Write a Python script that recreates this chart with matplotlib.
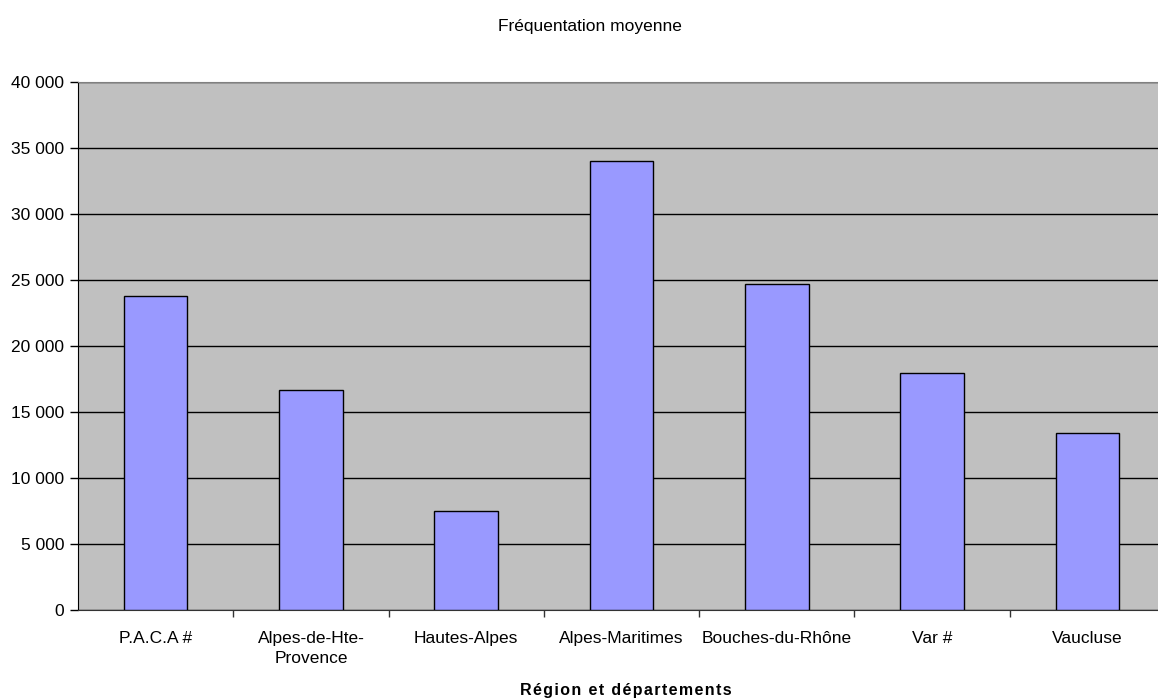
import matplotlib.pyplot as plt
from matplotlib.ticker import FuncFormatter, FixedLocator

# Data
categories = ["P.A.C.A #", "Alpes-de-Hte-\nProvence", "Hautes-Alpes", "Alpes-Maritimes",
              "Bouches-du-Rhône", "Var #", "Vaucluse"]
values = [23800, 16650, 7500, 34000, 24700, 17950, 13400]
y_ticks = [0, 5000, 10000, 15000, 20000, 25000, 30000, 35000, 40000]

plt.rcParams['font.family'] = ['Liberation Sans', 'DejaVu Sans']

fig = plt.figure(figsize=(11.58, 7), dpi=100)
ax = fig.add_axes([78 / 1158, 90 / 700, 1087 / 1158, 528 / 700])
ax.set_facecolor("#C0C0C0")

x = [i + 0.5 for i in range(len(categories))]
ax.bar(x, values, width=0.41, color="#9999FF", edgecolor="black", linewidth=1, zorder=3)

ax.set_xlim(0, len(categories))
ax.set_ylim(0, 40000)
ax.set_yticks(y_ticks)
ax.yaxis.set_major_formatter(FuncFormatter(lambda v, p: f"{int(v):,}".replace(",", " ")))
ax.grid(axis="y", color="black", linewidth=1, zorder=1)

ax.set_xticks(x)
ax.set_xticklabels(categories, linespacing=1.45)
ax.xaxis.set_minor_locator(FixedLocator(range(1, len(categories))))
ax.tick_params(axis="x", which="major", length=0, pad=15, labelsize=12.5)
ax.tick_params(axis="x", which="minor", length=5, width=1, color="#333333")
ax.tick_params(axis="y", length=6, width=1, labelsize=12.5, pad=4)

ax.spines["top"].set_color("#808080")
ax.spines["right"].set_visible(False)
ax.spines["left"].set_color("black")
ax.spines["bottom"].set_color("#333333")

fig.text(590 / 1158, 1 - 27 / 700, "Fréquentation moyenne", ha="center", va="center", fontsize=12.5)
xlabel = "Région et départements"
fig.text(626 / 1158, 1 - 690 / 700, "\u200a".join(xlabel),
         ha="center", va="center", fontsize=11.5, fontweight="bold")

plt.savefig("out.png", dpi=100)
